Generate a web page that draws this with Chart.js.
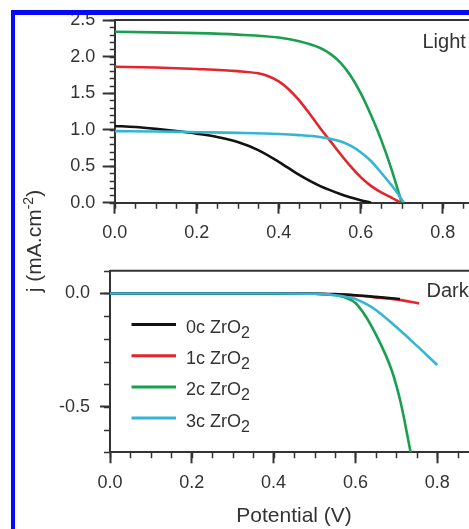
<!DOCTYPE html>
<html>
<head>
<meta charset="utf-8">
<script src="https://cdn.jsdelivr.net/npm/chart.js@4.4.1/dist/chart.umd.min.js"></script>
<style>
  html, body { margin: 0; padding: 0; background: #fff; width: 469px; height: 529px; overflow: hidden; }
  canvas { position: absolute; left: 0; }
  #grafLuz { top: 0; }
  #grafOscuro { top: 250px; }
  #marco {
    position: absolute; left: 11px; top: 10px; width: 600px; height: 600px;
    border-top: 5px solid #0808f8; border-left: 4px solid #0808f8;
    pointer-events: none; z-index: 5;
  }
  #tituloY {
    position: absolute; left: 33px; top: 241px; white-space: nowrap;
    transform: translate(-50%, -50%) rotate(-90deg);
    font: 21px 'Liberation Sans', Arial, sans-serif; color: #333;
  }
  #tituloY sup { font-size: 14px; }
</style>
</head>
<body>
<canvas id="grafLuz" width="500" height="250"></canvas>
<canvas id="grafOscuro" width="500" height="279"></canvas>
<div id="tituloY">j (mA.cm<sup>-2</sup>)</div>
<div id="marco"></div>
<script>
// etiquetas y colores
const etiquetas = ['0c ZrO2', '1c ZrO2', '2c ZrO2', '3c ZrO2'];
const colores = ['#121212', '#e3262e', '#19a04f', '#35b5d6'];

// Luz: potencial (V) y densidad de corriente (mA/cm2)
const potLuz0 = [0, 0.05, 0.1, 0.15, 0.2, 0.25, 0.3, 0.35, 0.4, 0.45, 0.5, 0.55, 0.6, 0.625];
const jLuz0 = [1.05, 1.035, 1.01, 0.98, 0.945, 0.90, 0.83, 0.72, 0.56, 0.38, 0.23, 0.12, 0.035, 0.0];
const potLuz1 = [0, 0.1, 0.2, 0.3, 0.35, 0.375, 0.4, 0.425, 0.45, 0.475, 0.5, 0.525, 0.55, 0.575, 0.6, 0.625, 0.65, 0.675, 0.697];
const jLuz1 = [1.86, 1.85, 1.83, 1.80, 1.77, 1.73, 1.66, 1.55, 1.40, 1.22, 1.03, 0.85, 0.67, 0.50, 0.35, 0.23, 0.14, 0.07, 0.0];
const potLuz2 = [0, 0.1, 0.2, 0.3, 0.4, 0.45, 0.5, 0.525, 0.55, 0.575, 0.6, 0.625, 0.65, 0.675, 0.7];
const jLuz2 = [2.34, 2.33, 2.32, 2.30, 2.26, 2.21, 2.12, 2.04, 1.92, 1.74, 1.50, 1.20, 0.86, 0.46, 0.0];
const potLuz3 = [0, 0.1, 0.2, 0.3, 0.4, 0.45, 0.5, 0.525, 0.55, 0.575, 0.6, 0.625, 0.65, 0.675, 0.69, 0.705];
const jLuz3 = [0.98, 0.975, 0.965, 0.955, 0.94, 0.925, 0.90, 0.875, 0.84, 0.78, 0.69, 0.57, 0.41, 0.24, 0.13, 0.0];

// Oscuridad
const potOsc0 = [0, 0.1, 0.2, 0.3, 0.4, 0.5, 0.55, 0.6, 0.65, 0.709];
const jOsc0 = [0, 0, 0, 0, 0, -0.001, -0.003, -0.008, -0.015, -0.024];
const potOsc1 = [0, 0.1, 0.2, 0.3, 0.4, 0.5, 0.55, 0.6, 0.65, 0.7, 0.756];
const jOsc1 = [0, 0, 0, 0, 0, -0.001, -0.004, -0.009, -0.017, -0.026, -0.044];
const potOsc2 = [0, 0.1, 0.2, 0.3, 0.4, 0.5, 0.525, 0.55, 0.575, 0.6, 0.625, 0.65, 0.675, 0.69, 0.7, 0.71, 0.72, 0.737];
const jOsc2 = [0, 0, 0, 0, 0, -0.001, -0.003, -0.007, -0.018, -0.042, -0.10, -0.18, -0.275, -0.345, -0.405, -0.475, -0.56, -0.72];
const potOsc3 = [0, 0.1, 0.2, 0.3, 0.4, 0.5, 0.525, 0.55, 0.575, 0.6, 0.625, 0.65, 0.7, 0.75, 0.8];
const jOsc3 = [0, 0, 0, 0, 0, -0.001, -0.003, -0.008, -0.014, -0.024, -0.045, -0.073, -0.148, -0.23, -0.315];

// ticks
const pasoX = 0.2;
const pasoYLuz = 0.5;
const pasoYOsc = 0.5;

Chart.defaults.font.family = "'Liberation Sans', Arial, sans-serif";
Chart.defaults.color = '#333';

function armarSerie(xs, ys) {
  return xs.map((v, i) => ({ x: v, y: ys[i] }));
}

function armarDatasets(series) {
  // cian arriba, luego negro, rojo, verde
  const orden = [1, 2, 3, 0];
  return series.map((s, i) => ({
    label: etiquetas[i],
    data: armarSerie(s[0], s[1]),
    borderColor: colores[i],
    backgroundColor: colores[i],
    borderWidth: 2.6,
    pointRadius: 0,
    cubicInterpolationMode: 'monotone',
    order: orden[i]
  }));
}

// marcas menores + borde superior de la caja
const marcasMenores = {
  id: 'marcasMenores',
  afterDraw(chart, args, o) {
    const { ctx, chartArea, scales: { x, y } } = chart;
    ctx.save();
    ctx.strokeStyle = '#333';
    ctx.lineWidth = 1.5;
    ctx.beginPath();
    for (let i = 0; x.min + i * o.xStep <= x.max + 1e-9; i++) {
      const px = Math.round(x.getPixelForValue(x.min + i * o.xStep)) + 0.5;
      ctx.moveTo(px, chartArea.bottom);
      ctx.lineTo(px, chartArea.bottom + o.xLen);
    }
    for (let i = 0; y.min + i * o.yStep <= y.max + 1e-9; i++) {
      const py = Math.round(y.getPixelForValue(y.min + i * o.yStep)) + 0.5;
      ctx.moveTo(chartArea.left, py);
      ctx.lineTo(chartArea.left - o.yLen, py);
    }
    ctx.stroke();
    ctx.lineWidth = 2;
    ctx.beginPath();
    ctx.moveTo(chartArea.left, chartArea.top);
    ctx.lineTo(chartArea.right, chartArea.top);
    ctx.stroke();
    // texto del panel
    ctx.fillStyle = '#333';
    ctx.font = "20px 'Liberation Sans', Arial, sans-serif";
    ctx.textBaseline = 'middle';
    ctx.fillText(o.texto, o.textoX, o.textoY);
    ctx.restore();
  }
};

// leyenda con subindice
const leyendaZr = {
  id: 'leyendaZr',
  afterDraw(chart, args, o) {
    if (!o.mostrar) return;
    const { ctx } = chart;
    ctx.save();
    chart.data.datasets.forEach((ds, i) => {
      const yy = o.y + i * o.paso;
      ctx.strokeStyle = ds.borderColor;
      ctx.lineWidth = 3;
      ctx.beginPath();
      ctx.moveTo(o.x1, yy);
      ctx.lineTo(o.x2, yy);
      ctx.stroke();
      const base = ds.label.slice(0, -1);
      const sub = ds.label.slice(-1);
      ctx.fillStyle = '#333';
      ctx.textBaseline = 'alphabetic';
      ctx.font = "18px 'Liberation Sans', Arial, sans-serif";
      ctx.fillText(base, o.xt, yy + 8.5);
      const w = ctx.measureText(base).width;
      ctx.font = "16px 'Liberation Sans', Arial, sans-serif";
      ctx.fillText(sub, o.xt + w, yy + 13.5);
    });
    ctx.restore();
  }
};

function ejeX(alto, titulo) {
  return {
    type: 'linear', min: 0, max: 0.9,
    border: { display: true, color: '#333', width: 2 },
    grid: { drawOnChartArea: false, tickLength: 11, tickColor: '#333', tickWidth: 2 },
    ticks: { stepSize: pasoX, includeBounds: false, autoSkip: false, maxRotation: 0,
             font: { size: 18 }, padding: 9, callback: v => v.toFixed(1) },
    title: titulo ? { display: true, text: titulo, font: { size: 21 }, color: '#333', padding: 0 } : { display: false },
    afterFit: s => { s.height = alto; }
  };
}

function ejeY(min, max, paso, ancho, largo, pad) {
  return {
    type: 'linear', min: min, max: max,
    border: { display: true, color: '#333', width: 2 },
    grid: { drawOnChartArea: false, tickLength: largo, tickColor: '#333', tickWidth: 2 },
    ticks: { stepSize: paso, includeBounds: false, autoSkip: false,
             font: { size: 18 }, padding: pad, callback: v => v.toFixed(1) },
    afterFit: s => { s.width = ancho; }
  };
}

new Chart(document.getElementById('grafLuz'), {
  type: 'line',
  data: { datasets: armarDatasets([[potLuz0, jLuz0], [potLuz1, jLuz1], [potLuz2, jLuz2], [potLuz3, jLuz3]]) },
  options: {
    responsive: false, animation: false, events: [],
    layout: { padding: { top: 20, right: 16.3, left: 0, bottom: 0 } },
    scales: { x: ejeX(47.3), y: ejeY(0, 2.5, pasoYLuz, 114.7, 12, 7.5) },
    plugins: {
      legend: { display: false }, tooltip: { enabled: false },
      marcasMenores: { xStep: 0.05, yStep: 0.1, xLen: 6, yLen: 5, texto: 'Light', textoX: 422.5, textoY: 42 },
      leyendaZr: { mostrar: false }
    }
  },
  plugins: [marcasMenores, leyendaZr]
});

new Chart(document.getElementById('grafOscuro'), {
  type: 'line',
  data: { datasets: armarDatasets([[potOsc0, jOsc0], [potOsc1, jOsc1], [potOsc2, jOsc2], [potOsc3, jOsc3]]) },
  options: {
    responsive: false, animation: false, events: [],
    layout: { padding: { top: 19.3, right: 21.9, left: 0, bottom: 0 } },
    scales: { x: ejeX(76.7, 'Potential (V)'), y: ejeY(-0.7, 0.1, pasoYOsc, 110, 10, 10) },
    plugins: {
      legend: { display: false }, tooltip: { enabled: false },
      marcasMenores: { xStep: 0.05, yStep: 0.1, xLen: 6, yLen: 6, texto: 'Dark', textoX: 426.5, textoY: 41 },
      leyendaZr: { mostrar: true, x1: 131.5, x2: 176, xt: 186, y: 74.5, paso: 31.2 }
    }
  },
  plugins: [marcasMenores, leyendaZr]
});
</script>
</body>
</html>
